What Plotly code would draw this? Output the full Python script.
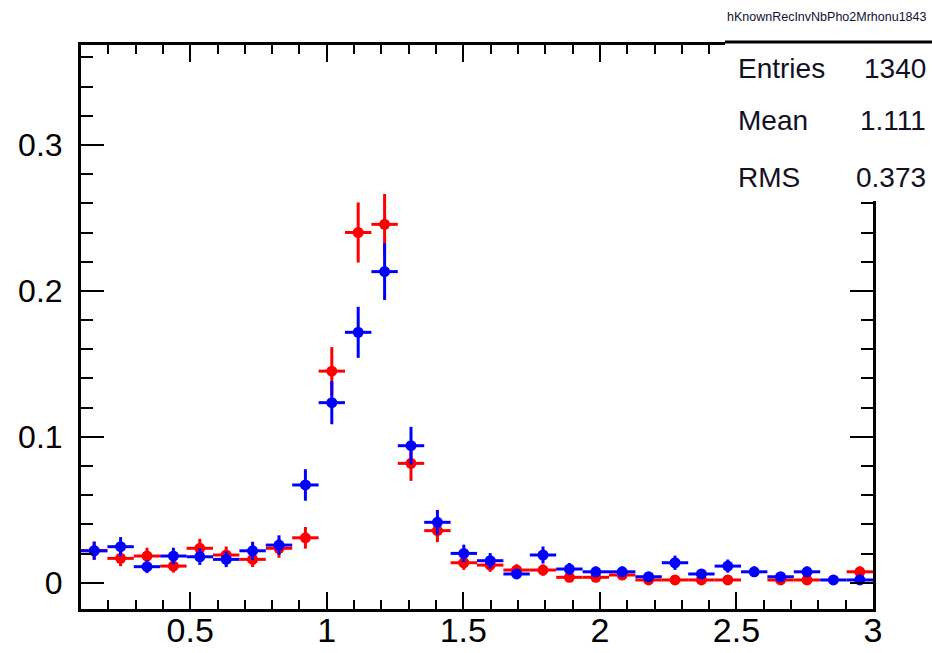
import plotly.graph_objects as go

# Histogram binning: 30 bins from 0.1 to 3.0
x_min, x_max, n_bins = 0.1, 3.0, 30
bin_w = (x_max - x_min) / n_bins
bin_centers = [x_min + bin_w * (k + 0.5) for k in range(n_bins)]

# Red series (values and vertical errors), None = empty bin
red_vals = [0.022, 0.0167, 0.0183, 0.0114, 0.0236, 0.019, 0.016, 0.0236, 0.0308, 0.145,
            0.240, 0.2456, 0.0818, 0.0357, 0.0137, 0.0121, 0.0087, 0.0087, 0.0037, 0.0037,
            0.0053, 0.0019, 0.0019, 0.0019, 0.0019, None, 0.0019, 0.0019, None, 0.0075]
red_errs = [0.0062, 0.0054, 0.0057, 0.0045, 0.0065, 0.0058, 0.0053, 0.0065, 0.0074, 0.0165,
            0.0206, 0.0208, 0.012, 0.0079, 0.0049, 0.0046, 0.0039, 0.0039, 0.0026, 0.0026,
            0.0031, 0.0018, 0.0018, 0.0018, 0.0018, 0.0, 0.0018, 0.0018, 0.0, 0.0036]

# Blue series
blue_vals = [0.0219, 0.0247, 0.011, 0.0183, 0.0178, 0.016, 0.0219, 0.0258, 0.067, 0.1234,
             0.1716, 0.2132, 0.0939, 0.0414, 0.0201, 0.0151, 0.006, 0.019, 0.0094, 0.0075,
             0.0075, 0.0041, 0.0137, 0.006, 0.0114, 0.0075, 0.0041, 0.0075, 0.0019, 0.0019]
blue_errs = [0.0062, 0.0066, 0.0044, 0.0057, 0.0056, 0.0053, 0.0062, 0.0067, 0.0108, 0.0148,
             0.0175, 0.0194, 0.0129, 0.0085, 0.006, 0.0052, 0.0033, 0.0058, 0.0041, 0.0036,
             0.0036, 0.0027, 0.0049, 0.0033, 0.0045, 0.0036, 0.0027, 0.0036, 0.0018, 0.0018]

hist_name = "hKnownRecInvNbPho2Mrhonu1843"
stat_labels = ["Entries", "Mean", "RMS"]
stat_values = ["1340", "1.111", "0.373"]

x_ticks = [0.5, 1, 1.5, 2, 2.5, 3]
y_ticks = [0, 0.1, 0.2, 0.3]

fig = go.Figure()


def add_series(vals, errs, color):
    fig.add_trace(go.Scatter(
        x=bin_centers, y=vals, mode="markers",
        marker=dict(symbol="circle", size=11, color=color, line=dict(width=0)),
        error_x=dict(type="constant", value=bin_w / 2, color=color, thickness=3, width=0),
        error_y=dict(type="data", array=errs, color=color, thickness=3, width=0),
        showlegend=False, hoverinfo="skip",
    ))


add_series(red_vals, red_errs, "#ff0000")
add_series(blue_vals, blue_errs, "#0000ff")

fig.update_layout(
    width=932, height=653,
    margin=dict(l=81, r=59, t=45, b=44, pad=0, autoexpand=False),
    paper_bgcolor="white", plot_bgcolor="white",
    font=dict(family="Liberation Sans, Arial, sans-serif", color="black"),
)

fig.update_xaxes(
    range=[x_min, x_max], tickvals=x_ticks, automargin=False,
    ticks="inside", ticklen=17, tickwidth=2, tickcolor="black",
    minor=dict(ticks="inside", dtick=0.1, tick0=0, ticklen=9, tickwidth=2, tickcolor="black"),
    showline=True, linewidth=3, linecolor="black", mirror="ticks",
    showgrid=False, zeroline=False,
    tickfont=dict(family="Liberation Sans, Arial", size=34, color="black"),
    ticklabelstandoff=-11,
)
fig.update_yaxes(
    range=[-0.018, 0.3685], tickvals=y_ticks, automargin=False,
    ticks="inside", ticklen=23, tickwidth=2, tickcolor="black",
    minor=dict(ticks="inside", dtick=0.02, tick0=0, ticklen=12, tickwidth=2, tickcolor="black"),
    showline=True, linewidth=3, linecolor="black", mirror="ticks",
    showgrid=False, zeroline=False,
    tickfont=dict(family="Liberation Sans, Arial", size=32, color="black"),
    ticklabelstandoff=9,
)

# Stats box (white panel covering the frame corner, with a thick top border)
box_x0 = (725 - 81) / 792
box_y0 = (609 - 201) / 564
box_y1 = (609 - 42) / 564
fig.add_shape(type="rect", xref="paper", yref="paper", x0=box_x0, x1=1.2, y0=box_y0, y1=box_y1,
              fillcolor="white", line=dict(width=0), layer="above")
fig.add_shape(type="line", xref="paper", yref="paper", x0=box_x0, x1=1.2, y0=box_y1, y1=box_y1,
              line=dict(color="black", width=3), layer="above")

fig.add_annotation(text=hist_name, xref="paper", yref="paper",
                   x=box_x0, y=(609 - 17) / 564, xanchor="left", yanchor="middle",
                   showarrow=False, font=dict(size=12.5, color="#111133"))

stat_ys = [69, 121, 177]
for lab, val, py in zip(stat_labels, stat_values, stat_ys):
    yp = (609 - py) / 564
    fig.add_annotation(text=lab, xref="paper", yref="paper", x=(736 - 81) / 792, y=yp,
                       xanchor="left", yanchor="middle", showarrow=False,
                       font=dict(size=28, color="#111122"))
    fig.add_annotation(text=val, xref="paper", yref="paper", x=(928 - 81) / 792, y=yp,
                       xanchor="right", yanchor="middle", showarrow=False,
                       font=dict(size=28, color="#111122"))

fig.write_html("out.html")
